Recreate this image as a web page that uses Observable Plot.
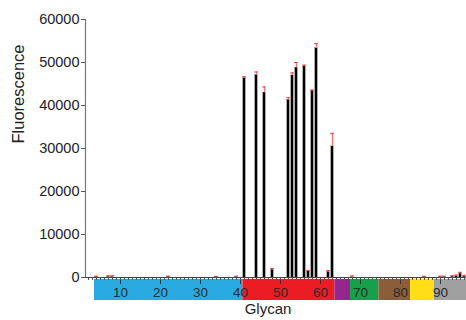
<!DOCTYPE html>
<html>
<head>
<meta charset="utf-8">
<script src="https://cdn.jsdelivr.net/npm/d3@7"></script>
<script src="https://cdn.jsdelivr.net/npm/@observablehq/plot@0.6"></script>
<style>
  html, body { margin: 0; padding: 0; background: #fff; }
</style>
</head>
<body>
<div id="chart"></div>
<script>
// Glycan ids with measured fluorescence (others ~0)
const glycans      = [4, 7, 8, 22, 34, 39, 41, 44, 46, 48, 52, 53, 54, 56, 57, 58, 59, 62, 63, 68, 86, 90, 91, 93, 94, 95, 96];
const fluorescence = [120, 150, 150, 100, 80, 100, 46400, 47100, 43000, 1800, 41300, 47000, 48800, 49100, 1400, 43400, 53300, 1300, 30500, 100, 80, 100, 100, 200, 300, 900, 200];
const errors       = [200, 250, 250, 200, 180, 200, 300, 700, 1300, 300, 500, 600, 1200, 300, 250, 200, 1100, 300, 3000, 250, 200, 200, 200, 200, 250, 300, 300];

// Glycan class colour bands below the axis
const bandStart = [3.5, 40.6, 63.6, 67.5, 74.6, 82.5, 88.5];
const bandEnd   = [40.6, 63.6, 67.5, 74.6, 82.5, 88.5, 96.5];
const bandColor = ["#29abe2", "#ec1c24", "#93278f", "#17a04a", "#8b5d3b", "#ffde17", "#a0a0a0"];

const xTicks = [10, 20, 30, 40, 50, 60, 70, 80, 90];
const minorTicks = d3.range(2, 97);
const yTicks = [0, 10000, 20000, 30000, 40000, 50000, 60000];
const xDomain = [1.25, 96.5];
const yDomain = [0, 60000];

const data = glycans.map((g, i) => ({glycan: g, value: fluorescence[i], err: errors[i]}));
const bands = bandStart.map((s, i) => ({start: s, end: bandEnd[i], color: bandColor[i]}));

const font = "'Liberation Sans', Arial, Helvetica, sans-serif";

const chart = Plot.plot({
  width: 466,
  height: 320,
  marginLeft: 85,
  marginRight: 0,
  marginTop: 19,
  marginBottom: 43,
  style: {fontFamily: font, fontSize: "14px", color: "#222", background: "#fff"},
  x: {domain: xDomain, axis: null},
  y: {domain: yDomain, axis: null},
  marks: [
    // colour band (below the value axis)
    Plot.rect(bands, {x1: "start", x2: "end", y1: -465, y2: -5350, fill: "color"}),
    // major x ticks and labels inside the band
    Plot.axisX({ticks: xTicks, tickSize: 5, dy: 2, tickPadding: 3, label: null,
      stroke: "#333", fill: "#2a2a2a", fontSize: "13.5px", tickFormat: d3.format("d")}),
    // minor ticks on the axis line
    Plot.axisX({ticks: minorTicks, tickSize: 3, label: null, tickFormat: () => "", stroke: "#555"}),
    // y axis
    Plot.axisY({ticks: yTicks, tickSize: 4, tickPadding: 2, label: null,
      stroke: "#555", fill: "#222", fontSize: "14.5px", tickFormat: d3.format("d")}),
    Plot.ruleX([xDomain[0]], {stroke: "#777", strokeWidth: 1.2}),
    Plot.ruleY([0], {stroke: "#444", strokeWidth: 1}),
    // bars
    Plot.rectY(data, {x1: d => d.glycan - 0.3, x2: d => d.glycan + 0.3, y1: 0, y2: "value",
      fill: "#000", stroke: "#666", strokeWidth: 0.3}),
    // error bars
    Plot.ruleX(data, {x: "glycan", y1: "value", y2: d => d.value + d.err, stroke: "#f27a7a", strokeWidth: 1.4}),
    Plot.ruleY(data, {y: d => d.value + d.err, x1: d => d.glycan - 0.45, x2: d => d.glycan + 0.45, stroke: "#ee3b3b", strokeWidth: 1}),
    // axis titles
    Plot.text(["Fluorescence"], {frameAnchor: "left", rotate: -90, dx: -67, dy: -5, fontSize: 16.5, fill: "#222"}),
    Plot.text(["Glycan"], {frameAnchor: "bottom", dx: -8, dy: 36, fontSize: 15, fill: "#222"})
  ]
});

document.getElementById("chart").appendChild(chart);
</script>
</body>
</html>
